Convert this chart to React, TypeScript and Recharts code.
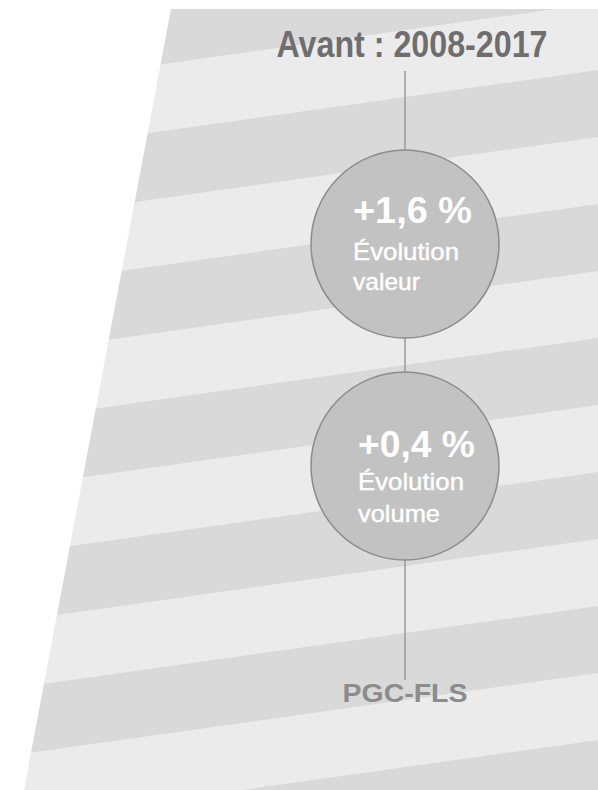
import { ComposedChart, Area, Line, Scatter, XAxis, YAxis } from "recharts";

// Infographic: two growth bubbles hung on a vertical rule, over a slanted, striped panel.
const FONT = '"Liberation Sans", Arial, sans-serif';

const title = "Avant : 2008-2017";
const footer = "PGC-FLS";
const evolutionValues = [1.6, 0.4];
const evolutionLabels = [
  ["Évolution", "valeur"],
  ["Évolution", "volume"],
];
const bubbleY = [244, 466];
const ruleX = 405;
const ruleY = [71, 680];

// Dark stripes: top/bottom boundary read at the left (x=0) and right (x=598) edges.
const stripeEdgeX = [0, 598];
const darkTopLeft = [20, 154, 288, 422, 556, 690, 824];
const darkBottomLeft = [87, 221, 355, 489, 623, 757, 891];
const darkTopRight = [-64, 70, 204, 338, 472, 606, 740];
const darkBottomRight = [3, 137, 271, 405, 539, 673, 807];

// Panel outline: white mask covers everything above this line (slanted left edge, flat top).
const outlineX = [0, 24, 171, 598];
const outlineMaskBottom = [790, 790, 9, 9];

const rows = outlineX.map((x, i) => {
  const row: Record<string, any> = { x, mask: [0, outlineMaskBottom[i]] };
  const e = stripeEdgeX.indexOf(x);
  darkTopLeft.forEach((_, k) => {
    row[`s${k}`] = e === 0 ? [darkTopLeft[k], darkBottomLeft[k]] : e === 1 ? [darkTopRight[k], darkBottomRight[k]] : null;
  });
  return row;
});

const bubbles = evolutionValues.map((v, i) => ({
  x: ruleX,
  y: bubbleY[i],
  i,
  value: `+${v.toFixed(1).replace(".", ",")} %`,
  lines: evolutionLabels[i],
}));

const ruleData = ruleY.map((y) => ({ x: ruleX, y }));

const labels = [
  { x: 412, y: 57, text: title, size: 36, color: "#6e6e6e", len: 271 },
  { x: 405, y: 702, text: footer, size: 26, color: "#8c8c8c", len: 125 },
];

// text offsets inside each bubble, relative to its centre
const bubbleText = [
  { dx: -52, value: -21, l1: 16, l2: 46, vLen: 119, l1Len: 106, l2Len: 67 },
  { dx: -47, value: -9, l1: 24, l2: 56, vLen: 117, l1Len: 106, l2Len: 82 },
];

function Bubble(props: any) {
  const { cx, cy, payload } = props;
  const t = bubbleText[payload.i];
  const x = cx + t.dx;
  return (
    <g>
      <circle cx={cx} cy={cy} r={94} fill="#c2c2c2" stroke="#8c8c8c" strokeWidth={1.5} />
      <text x={x} y={cy + t.value} fill="#fff" fontFamily={FONT} fontWeight="bold" fontSize={36} textLength={t.vLen} lengthAdjust="spacingAndGlyphs">
        {payload.value}
      </text>
      <text x={x} y={cy + t.l1} fill="#fff" stroke="#fff" strokeWidth={0.4} fontFamily={FONT} fontSize={24} textLength={t.l1Len} lengthAdjust="spacingAndGlyphs">
        {payload.lines[0]}
      </text>
      <text x={x} y={cy + t.l2} fill="#fff" stroke="#fff" strokeWidth={0.4} fontFamily={FONT} fontSize={24} textLength={t.l2Len} lengthAdjust="spacingAndGlyphs">
        {payload.lines[1]}
      </text>
    </g>
  );
}

function Caption(props: any) {
  const { cx, cy, payload } = props;
  return (
    <text x={cx} y={cy} textAnchor="middle" fill={payload.color} fontFamily={FONT} fontWeight="bold" fontSize={payload.size} textLength={payload.len} lengthAdjust="spacingAndGlyphs">
      {payload.text}
    </text>
  );
}

export default function App() {
  return (
    <div style={{ position: "absolute", left: 0, top: 0, width: 598, height: 790, background: "#fff" }}>
      <ComposedChart width={598} height={790} data={rows} margin={{ top: 0, right: 0, bottom: 0, left: 0 }} style={{ background: "#ebebeb" }}>
        <XAxis dataKey="x" type="number" domain={[0, 598]} allowDataOverflow hide />
        <YAxis type="number" domain={[0, 790]} reversed allowDataOverflow hide />
        {darkTopLeft.map((_, k) => (
          <Area
            key={k}
            type="linear"
            dataKey={`s${k}`}
            stroke="none"
            fill="#d9d9d9"
            fillOpacity={1}
            connectNulls
            dot={false}
            activeDot={false}
            isAnimationActive={false}
          />
        ))}
        <Area type="linear" dataKey="mask" stroke="none" fill="#ffffff" fillOpacity={1} dot={false} activeDot={false} isAnimationActive={false} />
        <Line data={ruleData} dataKey="y" type="linear" stroke="#9a9a9a" strokeWidth={1.5} dot={false} activeDot={false} isAnimationActive={false} />
        <Scatter data={bubbles} dataKey="y" shape={Bubble} isAnimationActive={false} />
        <Scatter data={labels} dataKey="y" shape={Caption} isAnimationActive={false} />
      </ComposedChart>
    </div>
  );
}
